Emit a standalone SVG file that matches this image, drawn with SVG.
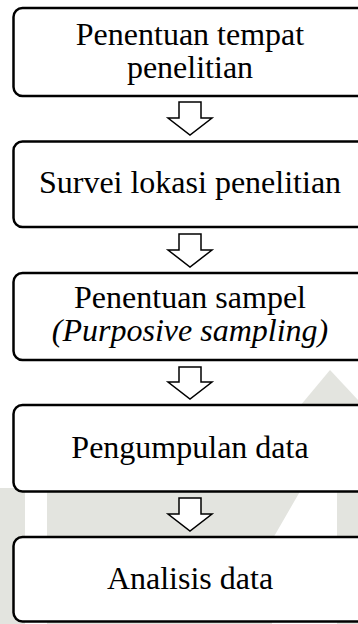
<svg xmlns="http://www.w3.org/2000/svg" width="358" height="624" viewBox="0 0 358 624">
<style>
.box{fill:#fff;stroke:#000;stroke-width:2.5}
.arr{fill:#fff;stroke:#000;stroke-width:1.5;stroke-linejoin:miter}
.t{font-family:'Liberation Serif','Times New Roman',serif;font-size:32px;fill:#000;text-anchor:middle}
.i{font-style:italic}
.wm{fill:#e3e4df}
</style>
<rect width="358" height="624" fill="#fff"/>
<g id="watermark">
<rect class="wm" x="0" y="488" width="25" height="136"/>
<polygon class="wm" points="47,488 302,488 272,540 272,624 47,624"/>
<rect class="wm" x="337" y="488" width="21" height="136"/>
<polygon class="wm" points="330,370 358,400 358,406 300,406"/>
</g>
<g id="connectors">
<polygon class="arr" points="179,102 201,102 201,118 212,118 190,135 168,118 179,118"/>
<polygon class="arr" points="179,234 201,234 201,250 212,250 190,267 168,250 179,250"/>
<polygon class="arr" points="179,367 201,367 201,382 212,382 190,399 168,382 179,382"/>
<polygon class="arr" points="179,498 201,498 201,514 212,514 190,531 168,514 179,514"/>
</g>
<g id="n1">
<rect class="box" x="13.5" y="8" width="370" height="88" rx="9"/>
<text class="t" x="190" y="45">Penentuan tempat</text>
<text class="t" x="190" y="78">penelitian</text>
</g>
<g id="n2">
<rect class="box" x="13.5" y="141.5" width="370" height="85.5" rx="9"/>
<text class="t" x="190" y="193">Survei lokasi penelitian</text>
</g>
<g id="n3">
<rect class="box" x="13.5" y="273" width="370" height="87" rx="9"/>
<text class="t" x="190" y="308">Penentuan sampel</text>
<text class="t i" x="190" y="341">(Purposive sampling)</text>
</g>
<g id="n4">
<rect class="box" x="13.5" y="405" width="370" height="86.5" rx="9"/>
<text class="t" x="190" y="458">Pengumpulan data</text>
</g>
<g id="n5">
<rect class="box" x="13.5" y="537" width="370" height="84.5" rx="9"/>
<text class="t" x="190" y="589">Analisis data</text>
</g>
</svg>
